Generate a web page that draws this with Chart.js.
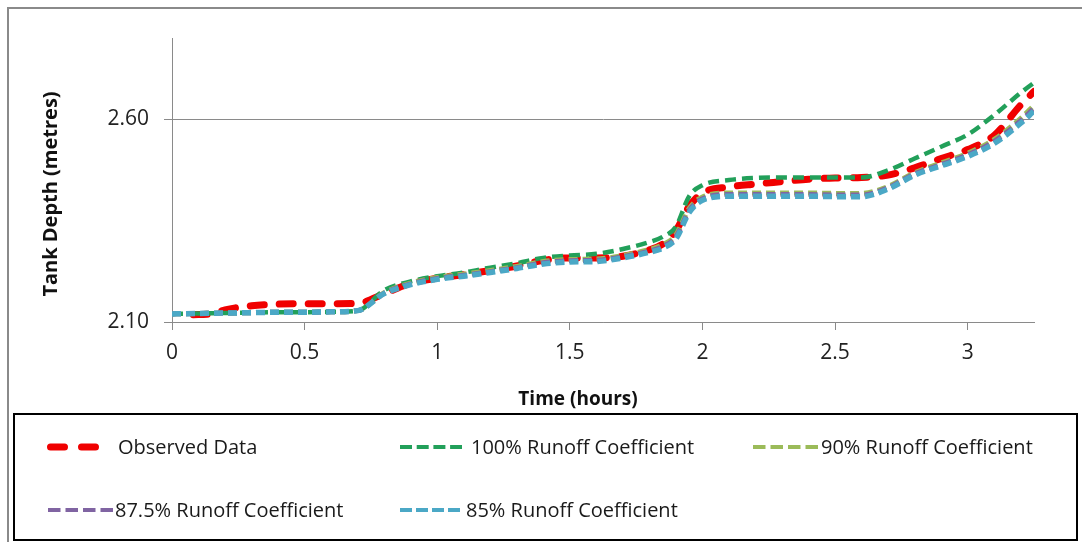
<!DOCTYPE html>
<html>
<head>
<meta charset="utf-8">
<script src="https://cdn.jsdelivr.net/npm/chart.js@4.4.0/dist/chart.umd.min.js"></script>
<style>
  body { margin: 0; background: #fff; }
  #wrap { width: 1082px; height: 542px; position: relative; }
</style>
</head>
<body>
<div id="wrap"><canvas id="tankChart"></canvas></div>
<script>
// time axis (hours) for the model runs and for the observed record
const modelTime = [0, 0.1, 0.2, 0.3, 0.4, 0.5, 0.6, 0.7, 0.8, 0.9, 1.0, 1.1, 1.2, 1.3, 1.4, 1.5, 1.6, 1.7, 1.8, 1.85, 1.9, 1.95, 2.0, 2.1, 2.2, 2.3, 2.4, 2.5, 2.6, 2.7, 2.8, 2.9, 3.0, 3.1, 3.2, 3.25];
const obsTime = [0.08, 0.15, 0.2, 0.3, 0.4, 0.5, 0.6, 0.7, 0.8, 0.9, 1.0, 1.1, 1.2, 1.3, 1.4, 1.5, 1.6, 1.7, 1.8, 1.85, 1.9, 1.95, 2.0, 2.1, 2.2, 2.3, 2.4, 2.5, 2.6, 2.7, 2.8, 2.9, 3.0, 3.1, 3.2, 3.25];

// tank depth (metres)
const observed   = [2.118, 2.120, 2.130, 2.140, 2.144, 2.145, 2.145, 2.146, 2.170, 2.195, 2.208, 2.217, 2.227, 2.238, 2.252, 2.258, 2.258, 2.262, 2.278, 2.292, 2.325, 2.385, 2.418, 2.433, 2.440, 2.446, 2.452, 2.455, 2.456, 2.462, 2.480, 2.503, 2.525, 2.560, 2.635, 2.668];
const runoff100  = [2.120, 2.121, 2.122, 2.123, 2.124, 2.124, 2.125, 2.128, 2.178, 2.200, 2.213, 2.222, 2.234, 2.245, 2.258, 2.264, 2.268, 2.280, 2.297, 2.310, 2.335, 2.410, 2.437, 2.450, 2.455, 2.456, 2.456, 2.456, 2.456, 2.474, 2.503, 2.532, 2.562, 2.610, 2.665, 2.690];
const runoff90   = [2.120, 2.121, 2.122, 2.123, 2.124, 2.124, 2.125, 2.128, 2.172, 2.196, 2.210, 2.218, 2.227, 2.237, 2.249, 2.254, 2.255, 2.264, 2.279, 2.290, 2.315, 2.380, 2.408, 2.418, 2.418, 2.418, 2.418, 2.417, 2.417, 2.434, 2.468, 2.492, 2.516, 2.550, 2.602, 2.634];
const runoff875  = [2.120, 2.121, 2.122, 2.123, 2.124, 2.124, 2.125, 2.128, 2.171, 2.194, 2.207, 2.215, 2.224, 2.234, 2.246, 2.251, 2.252, 2.261, 2.275, 2.286, 2.310, 2.375, 2.404, 2.414, 2.414, 2.414, 2.414, 2.413, 2.413, 2.431, 2.465, 2.488, 2.512, 2.545, 2.596, 2.627];
const runoff85   = [2.120, 2.121, 2.122, 2.123, 2.124, 2.124, 2.125, 2.128, 2.170, 2.192, 2.205, 2.213, 2.222, 2.232, 2.243, 2.248, 2.249, 2.258, 2.272, 2.282, 2.305, 2.370, 2.400, 2.410, 2.410, 2.410, 2.410, 2.409, 2.409, 2.428, 2.462, 2.485, 2.508, 2.540, 2.590, 2.620];

// axis ticks
const xTicks = [0, 0.5, 1, 1.5, 2, 2.5, 3];
const xTickLabels = ['0', '0.5', '1', '1.5', '2', '2.5', '3'];
const yTicks = [2.10, 2.60];
const yTickLabels = ['2.10', '2.60'];

const seriesNames = ['Observed Data', '100% Runoff Coefficient', '90% Runoff Coefficient', '87.5% Runoff Coefficient', '85% Runoff Coefficient'];
const seriesColors = ['#f00000', '#22a05a', '#9bbb59', '#8064a2', '#4ba8c6'];

const FONT = "'Open Sans', 'Noto Sans', sans-serif";

function pts(xs, ys) {
    return xs.map((x, i) => ({ x: x, y: ys[i] }));
}

// legend drawn by hand so it can sit in a framed box with fixed columns
const legendItems = [
    { ds: 4, x1: 50.5, x2: 96.5, tx: 118, y: 447 },
    { ds: 3, x1: 400, x2: 462, tx: 471, y: 447 },
    { ds: 2, x1: 753, x2: 818, tx: 821, y: 447 },
    { ds: 1, x1: 48, x2: 113, tx: 115, y: 510 },
    { ds: 0, x1: 400, x2: 460, tx: 466, y: 510 }
];

const framePlugin = {
    id: 'framePlugin',
    afterDraw(chart) {
        const ctx = chart.ctx;
        ctx.save();
        // outer chart frame
        ctx.strokeStyle = '#8a8a8a';
        ctx.lineWidth = 2;
        ctx.strokeRect(8, 8, 1200, 1200);

        // axis titles
        ctx.fillStyle = '#111';
        ctx.font = "bold 19px " + FONT;
        ctx.textAlign = 'center';
        ctx.textBaseline = 'alphabetic';
        ctx.fillText('Time (hours)', 578, 405);

        ctx.save();
        ctx.translate(57, 194);
        ctx.rotate(-Math.PI / 2);
        ctx.font = "bold 20px " + FONT;
        ctx.fillText('Tank Depth (metres)', 0, 0);
        ctx.restore();

        // legend box
        ctx.strokeStyle = '#000';
        ctx.lineWidth = 2;
        ctx.strokeRect(14, 414, 1063, 126);

        ctx.font = "20px " + FONT;
        ctx.textAlign = 'left';
        legendItems.forEach(item => {
            const ds = chart.data.datasets[item.ds];
            ctx.save();
            ctx.strokeStyle = ds.borderColor;
            ctx.lineWidth = ds.legendWidth;
            ctx.lineCap = ds.borderCapStyle;
            ctx.setLineDash(ds.legendDash);
            ctx.beginPath();
            ctx.moveTo(item.x1, item.y);
            ctx.lineTo(item.x2, item.y);
            ctx.stroke();
            ctx.restore();
            ctx.fillStyle = '#1a1a1a';
            ctx.fillText(ds.label, item.tx, item.y + 7);
        });
        ctx.restore();
    }
};

// first dataset is drawn on top, so the 85% run goes first
const datasets = [
    {
        label: seriesNames[4], data: pts(modelTime, runoff85),
        borderColor: seriesColors[4], borderWidth: 5.5, borderDash: [9, 5], borderCapStyle: 'butt',
        legendWidth: 4, legendDash: [12, 4]
    },
    {
        label: seriesNames[3], data: pts(modelTime, runoff875),
        borderColor: seriesColors[3], borderWidth: 5, borderDash: [9, 5], borderCapStyle: 'butt',
        legendWidth: 4, legendDash: [12.5, 5]
    },
    {
        label: seriesNames[2], data: pts(modelTime, runoff90),
        borderColor: seriesColors[2], borderWidth: 5, borderDash: [9, 5], borderCapStyle: 'butt',
        legendWidth: 4, legendDash: [12.5, 5]
    },
    {
        label: seriesNames[1], data: pts(modelTime, runoff100),
        borderColor: seriesColors[1], borderWidth: 4.5, borderDash: [11, 6], borderCapStyle: 'butt',
        legendWidth: 4, legendDash: [12, 4.7]
    },
    {
        label: seriesNames[0], data: pts(obsTime, observed),
        borderColor: seriesColors[0], borderWidth: 7, borderDash: [14, 15], borderCapStyle: 'round',
        legendWidth: 7, legendDash: [14, 17]
    }
];
datasets.forEach(d => {
    d.pointRadius = 0;
    d.fill = false;
    d.cubicInterpolationMode = 'monotone';
});

new Chart(document.getElementById('tankChart'), {
    type: 'line',
    data: { datasets: datasets },
    options: {
        responsive: true,
        maintainAspectRatio: false,
        animation: false,
        events: [],
        layout: { padding: { left: 0, top: 38, right: 48, bottom: 0 } },
        plugins: {
            legend: { display: false },
            tooltip: { enabled: false }
        },
        scales: {
            x: {
                type: 'linear',
                min: 0,
                max: 3.25,
                afterFit: s => { s.height = 220; },
                afterBuildTicks: s => { s.ticks = xTicks.map(v => ({ value: v })); },
                ticks: {
                    padding: 10,
                    color: '#222',
                    font: { family: FONT, size: 21 },
                    callback: (v, i) => xTickLabels[i]
                },
                grid: { drawOnChartArea: false, drawTicks: true, tickLength: 8, color: '#8a8a8a' },
                border: { color: '#8a8a8a' }
            },
            y: {
                min: 2.10,
                max: 2.80,
                afterFit: s => { s.width = 172; },
                afterBuildTicks: s => { s.ticks = yTicks.map(v => ({ value: v })); },
                ticks: {
                    padding: 15,
                    color: '#222',
                    font: { family: FONT, size: 21 },
                    callback: (v, i) => yTickLabels[i]
                },
                grid: { tickLength: 8, color: '#8a8a8a' },
                border: { color: '#8a8a8a' }
            }
        }
    },
    plugins: [framePlugin]
});
</script>
</body>
</html>
